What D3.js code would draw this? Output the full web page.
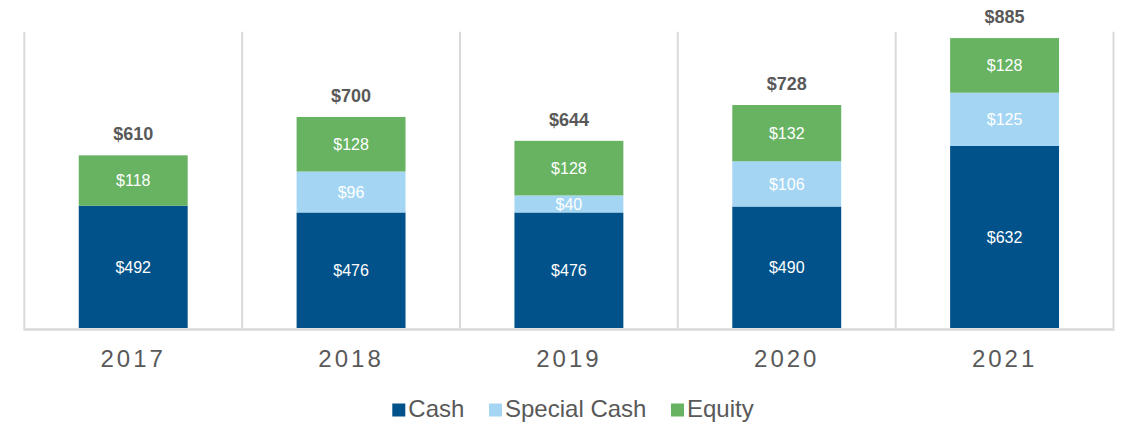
<!DOCTYPE html>
<html>
<head>
<meta charset="utf-8">
<script src="https://cdn.jsdelivr.net/npm/d3@7"></script>
<style>
  html, body { margin: 0; padding: 0; background: #ffffff; }
  svg { display: block; }
</style>
</head>
<body>
<svg id="chart" width="1124" height="425"></svg>
<script>
const categories = ["2017", "2018", "2019", "2020", "2021"];
const seriesNames = ["Cash", "Special Cash", "Equity"];
const cash = [492, 476, 476, 490, 632];
const specialCash = [0, 96, 40, 106, 125];
const equity = [118, 128, 128, 132, 128];
const totals = [610, 700, 644, 728, 885];
const colors = ["#01528A", "#A4D6F4", "#67B362"];

(function () {
const svg = d3.select("#chart");
const plotLeft = 24.3, plotRight = 1113.5, plotTop = 31.7, plotBottom = 328;

const x = d3.scaleBand().domain(categories).range([plotLeft, plotRight])
  .paddingInner(0.5).paddingOuter(0.25);
const y = d3.scaleLinear().domain([205, 900]).range([plotBottom, plotTop]);

const rows = categories.map((c, i) => ({ cat: c, "Cash": cash[i], "Special Cash": specialCash[i], "Equity": equity[i] }));
const stack = d3.stack().keys(seriesNames)(rows);

// gridlines at category boundaries
const gridXs = categories.map(c => x(c) - x.step() * 0.25).concat([x(categories[categories.length - 1]) + x.bandwidth() + x.step() * 0.25]);
svg.append("g").selectAll("line").data(gridXs).join("line")
  .attr("x1", d => d).attr("x2", d => d)
  .attr("y1", plotTop).attr("y2", plotBottom)
  .attr("stroke", "#d9d9d9").attr("stroke-width", 2);

const segBottom = (d, li) => li === 0 ? plotBottom : y(d[0]);

// bars
const g = svg.append("g");
stack.forEach((layer, li) => {
  g.append("g").attr("fill", colors[li]).selectAll("rect")
    .data(layer.filter(d => d[1] - d[0] > 0)).join("rect")
    .attr("x", d => x(d.data.cat))
    .attr("width", x.bandwidth())
    .attr("y", d => y(d[1]))
    .attr("height", d => segBottom(d, li) - y(d[1]));
});

// segment labels
stack.forEach((layer, li) => {
  g.append("g").selectAll("text")
    .data(layer.filter(d => d[1] - d[0] > 0)).join("text")
    .attr("x", d => x(d.data.cat) + x.bandwidth() / 2)
    .attr("y", d => (segBottom(d, li) + y(d[1])) / 2)
    .attr("dy", "0.36em")
    .attr("text-anchor", "middle")
    .attr("font-family", "Liberation Sans, Arial, sans-serif")
    .attr("font-size", 16)
    .attr("fill", "#ffffff")
    .text(d => "$" + (d[1] - d[0]));
});

// totals
svg.append("g").selectAll("text").data(categories).join("text")
  .attr("x", c => x(c) + x.bandwidth() / 2)
  .attr("y", (c, i) => y(totals[i]) - 15)
  .attr("text-anchor", "middle")
  .attr("font-family", "Liberation Sans, Arial, sans-serif")
  .attr("font-size", 18).attr("font-weight", "bold")
  .attr("fill", "#595959")
  .text((c, i) => "$" + totals[i]);

// baseline
svg.append("line").attr("x1", plotLeft - 1).attr("x2", plotRight + 1)
  .attr("y1", 329.5).attr("y2", 329.5)
  .attr("stroke", "#d9d9d9").attr("stroke-width", 2.5);

// x axis labels
svg.append("g").selectAll("text").data(categories).join("text")
  .attr("x", c => x(c) + x.bandwidth() / 2 + 0)
  .attr("y", 367)
  .attr("text-anchor", "middle")
  .attr("font-family", "Liberation Sans, Arial, sans-serif")
  .attr("font-size", 24)
  .attr("letter-spacing", "3px")
  .attr("fill", "#595959")
  .text(c => c);

// legend
const legend = svg.append("g").attr("font-family", "Liberation Sans, Arial, sans-serif")
  .attr("font-size", 24).attr("fill", "#595959");
const legendX = [392.3, 489, 671];
seriesNames.forEach((s, i) => {
  legend.append("rect").attr("x", legendX[i]).attr("y", 403.5)
    .attr("width", 13).attr("height", 13).attr("fill", colors[i]);
  legend.append("text").attr("x", legendX[i] + 16).attr("y", 417.3).text(s);
});
})();
</script>
</body>
</html>
